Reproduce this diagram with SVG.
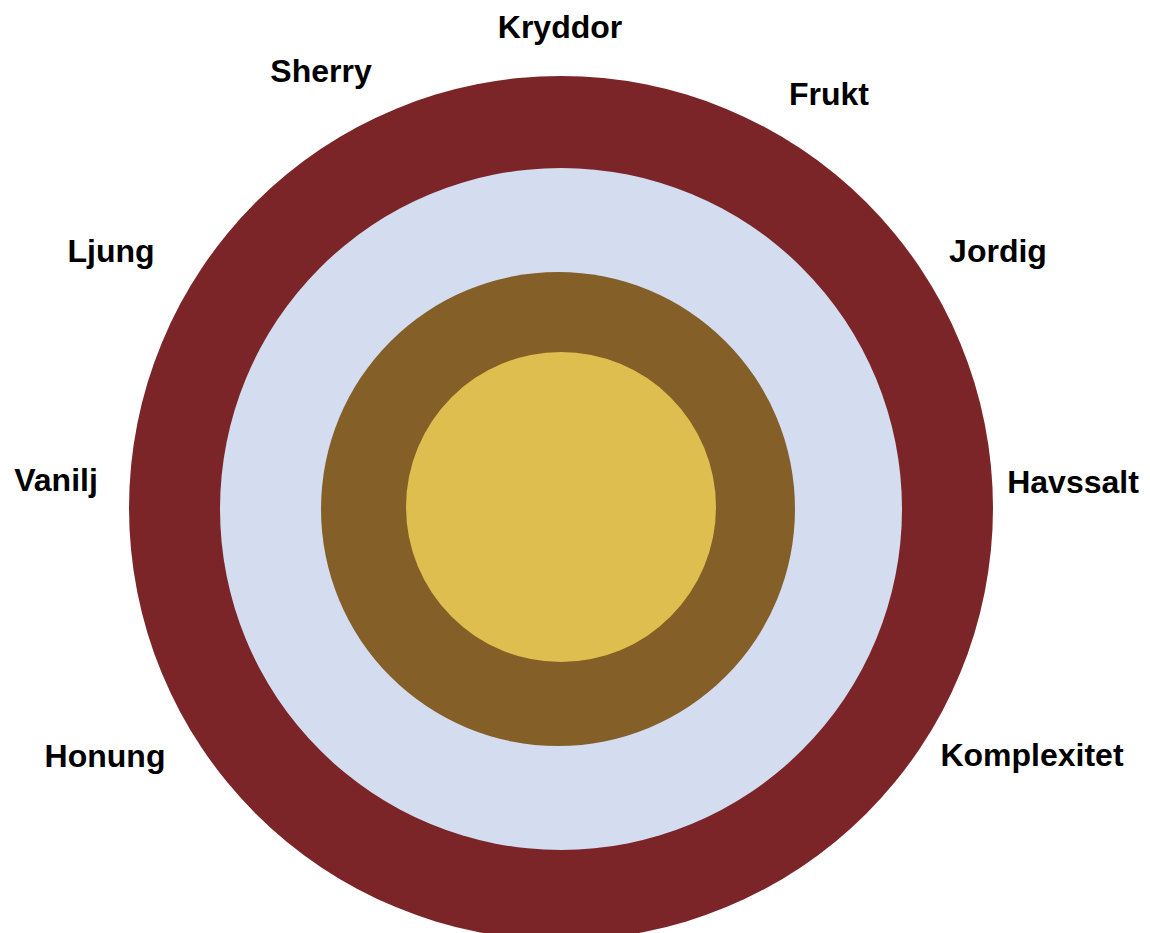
<svg xmlns="http://www.w3.org/2000/svg" width="1150" height="933" viewBox="0 0 1150 933">
<style>
.lbl{font-family:"Liberation Sans",Arial,sans-serif;font-weight:bold;font-size:32px;fill:#000;text-anchor:middle}
</style>
<rect width="1150" height="933" fill="#fff"/>
<g id="ring-outer"><circle cx="561" cy="508" r="432" fill="#7B2528"/></g>
<g id="ring-blue"><circle cx="561" cy="509" r="341" fill="#D4DCF0"/></g>
<g id="ring-brown"><circle cx="558" cy="509" r="237" fill="#845F27"/></g>
<g id="core"><circle cx="561" cy="507" r="155" fill="#DDBE4E"/></g>
<g id="labels">
<text class="lbl" x="560" y="38">Kryddor</text>
<text class="lbl" x="321" y="82">Sherry</text>
<text class="lbl" x="829" y="105">Frukt</text>
<text class="lbl" x="111" y="262">Ljung</text>
<text class="lbl" x="998" y="262">Jordig</text>
<text class="lbl" x="56" y="491">Vanilj</text>
<text class="lbl" x="1073" y="493">Havssalt</text>
<text class="lbl" x="105" y="767">Honung</text>
<text class="lbl" x="1032" y="766">Komplexitet</text>
</g>
</svg>
